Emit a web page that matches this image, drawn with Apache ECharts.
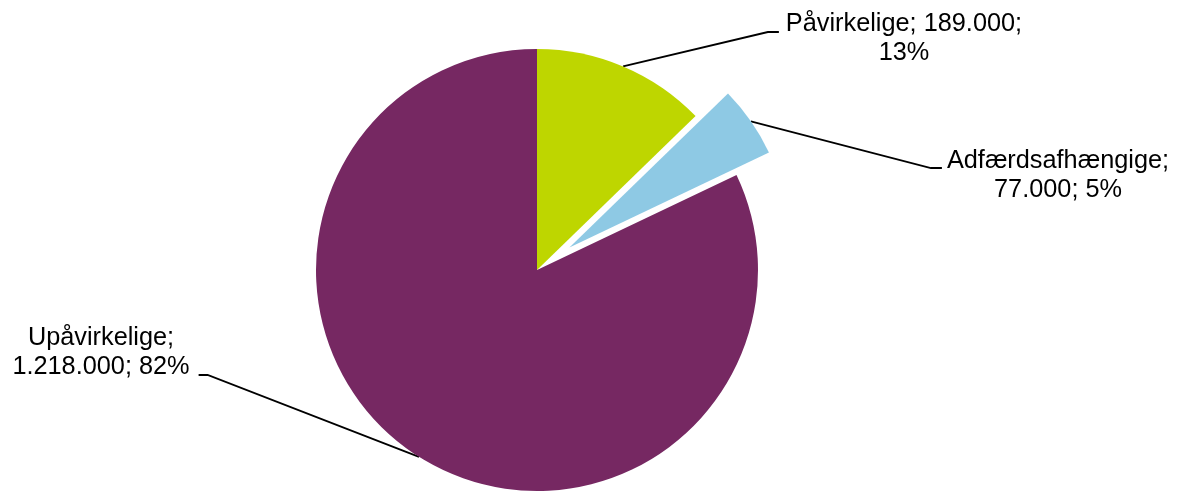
<!DOCTYPE html>
<html><head><meta charset="utf-8">
<script src="https://cdn.jsdelivr.net/npm/echarts@6/dist/echarts.min.js"></script>
<style>html,body{margin:0;padding:0;background:#fff}#c{width:1182px;height:492px}</style>
</head><body><div id="c"></div>
<script>
const categories = ['Påvirkelige', 'Adfærdsafhængige', 'Upåvirkelige'];
const values = [189000, 77000, 1218000];
const colors = ['#BED600', '#8EC9E4', '#762862'];
const explodedIndex = 1;

const CX = 537, CY = 270, R = 221, OFFSET = 39.5;
const FONT = 25.3;

// label block centre, leader-line y, side of label the line attaches to
const labelLayouts = [
  {x: 904, y: 38.5, lineY: 32, side: 'left', gap: 7, bendDx: 11},
  {x: 1058, y: 175.5, lineY: 168, side: 'left', gap: 5, bendDx: 11},
  {x: 101, y: 353, lineY: 375, side: 'right', gap: 9, bendDx: 9}
];

function fmtNum(v) { return String(v).replace(/\B(?=(\d{3})+(?!\d))/g, '.'); }
function formatter(p) {
  const pct = Math.round(p.percent) + '%';
  const num = fmtNum(p.value);
  return p.dataIndex === 0 ? p.name + '; ' + num + ';\n' + pct : p.name + ';\n' + num + '; ' + pct;
}

const total = values.reduce((a, b) => a + b, 0);
const startFrac = values.slice(0, explodedIndex).reduce((a, b) => a + b, 0) / total;
const midAng = (startFrac + values[explodedIndex] / total / 2) * 2 * Math.PI;
const center2 = [CX + OFFSET * Math.sin(midAng), CY - OFFSET * Math.cos(midAng)];

function labelLayout(params) {
  const L = labelLayouts[params.dataIndex];
  const w = params.labelRect.width;
  const endX = L.side === 'left' ? L.x - w / 2 - L.gap : L.x + w / 2 + L.gap;
  const bendX = L.side === 'left' ? endX - L.bendDx : endX + L.bendDx;
  const res = {x: L.x, y: L.y, align: 'center', verticalAlign: 'middle'};
  if (params.labelLinePoints) {
    res.labelLinePoints = [params.labelLinePoints[0], [bendX, L.lineY], [endX, L.lineY]];
  }
  return res;
}

function makeSeries(center, isVisible) {
  return {
    type: 'pie', center: center, radius: R, startAngle: 90, clockwise: true,
    silent: true, animation: false, avoidLabelOverlap: false,
    emphasis: {disabled: true},
    label: {show: true, position: 'outside', formatter: formatter,
      fontFamily: 'Liberation Sans, Arial, sans-serif', fontSize: FONT, color: '#000',
      lineHeight: 29, align: 'center'},
    labelLine: {show: true, length: 10, length2: 10, smooth: false,
      lineStyle: {color: '#000', width: 1.8}},
    labelLayout: labelLayout,
    data: categories.map((name, i) => {
      const vis = isVisible(i);
      return {name: name, value: values[i],
        itemStyle: {color: vis ? colors[i] : 'rgba(0,0,0,0)'},
        label: {show: vis}, labelLine: {show: vis}};
    })
  };
}

const chart = echarts.init(document.getElementById('c'), null, {renderer: 'canvas'});
chart.setOption({
  animation: false,
  backgroundColor: '#fff',
  series: [
    makeSeries([CX, CY], i => i !== explodedIndex),
    makeSeries(center2, i => i === explodedIndex)
  ]
});
</script></body></html>
